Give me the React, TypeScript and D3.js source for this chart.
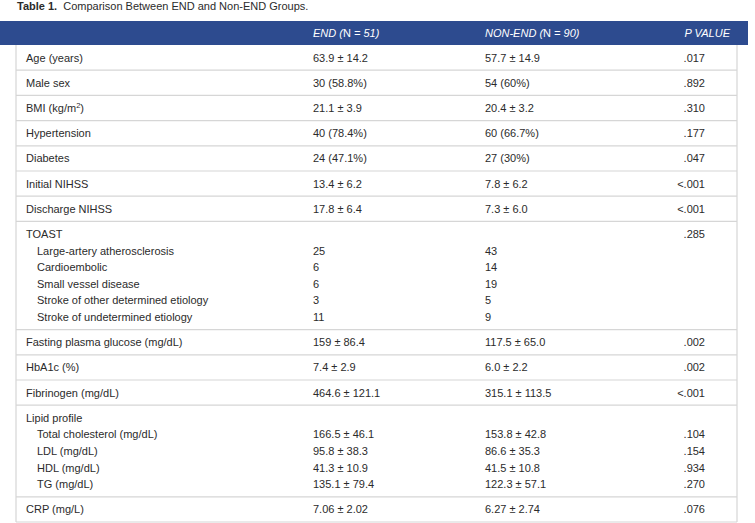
import React, { useEffect, useRef } from "react";
import { select, scaleLinear, sum } from "d3";

// table content
const title = "Comparison Between END and Non-END Groups.";
const headers = ["END", "NON-END", "P VALUE"];
const groupSizes = [51, 90];

const variables = [
  "Age (years)",
  "Male sex",
  "BMI (kg/m2)",
  "Hypertension",
  "Diabetes",
  "Initial NIHSS",
  "Discharge NIHSS",
  "TOAST",
  "Fasting plasma glucose (mg/dL)",
  "HbA1c (%)",
  "Fibrinogen (mg/dL)",
  "Lipid profile",
  "CRP (mg/L)"
];
const endValues = [
  "63.9 ± 14.2", "30 (58.8%)", "21.1 ± 3.9", "40 (78.4%)", "24 (47.1%)",
  "13.4 ± 6.2", "17.8 ± 6.4", "", "159 ± 86.4", "7.4 ± 2.9",
  "464.6 ± 121.1", "", "7.06 ± 2.02"
];
const nonEndValues = [
  "57.7 ± 14.9", "54 (60%)", "20.4 ± 3.2", "60 (66.7%)", "27 (30%)",
  "7.8 ± 6.2", "7.3 ± 6.0", "", "117.5 ± 65.0", "6.0 ± 2.2",
  "315.1 ± 113.5", "", "6.27 ± 2.74"
];
const pValues = [
  ".017", ".892", ".310", ".177", ".047", "<.001", "<.001", ".285",
  ".002", ".002", "<.001", "", ".076"
];

const toastTypes = [
  "Large-artery atherosclerosis",
  "Cardioembolic",
  "Small vessel disease",
  "Stroke of other determined etiology",
  "Stroke of undetermined etiology"
];
const toastEnd = ["25", "6", "6", "3", "11"];
const toastNonEnd = ["43", "14", "19", "5", "9"];
const toastP = ["", "", "", "", ""];

const lipidItems = ["Total cholesterol (mg/dL)", "LDL (mg/dL)", "HDL (mg/dL)", "TG (mg/dL)"];
const lipidEnd = ["166.5 ± 46.1", "95.8 ± 38.3", "41.3 ± 10.9", "135.1 ± 79.4"];
const lipidNonEnd = ["153.8 ± 42.8", "86.6 ± 35.3", "41.5 ± 10.8", "122.3 ± 57.1"];
const lipidP = [".104", ".154", ".934", ".270"];

const subRows = {
  TOAST: { labels: toastTypes, end: toastEnd, nonEnd: toastNonEnd, p: toastP },
  "Lipid profile": { labels: lipidItems, end: lipidEnd, nonEnd: lipidNonEnd, p: lipidP }
};

const W = 755;
const H = 523;
const FONT = "'Liberation Sans', Arial, Helvetica, sans-serif";
const BLUE = "#2d4b8f";
const TEXT = "#2b2b2b";
const RULE = "#d6d6d6";

export default function App() {
  const svgRef = useRef(null);

  useEffect(() => {
    const svg = select(svgRef.current);
    svg.selectAll("*").remove();

    const headTop = 21;
    const headBottom = 45;
    const lineH = 16.6;
    const pad = 8.6;
    const left = 16;
    const right = 737;
    const colX = { label: 26, sub: 37, end: 313, nonEnd: 485, pRight: 705 };

    // line index -> y offset
    const lineY = scaleLinear().domain([0, 1]).range([0, lineH]);

    // build row blocks
    const rows = variables.map((v, i) => {
      const sub = subRows[v];
      const lines = [{ label: v, end: endValues[i], nonEnd: nonEndValues[i], p: pValues[i], indent: false }];
      if (sub) {
        sub.labels.forEach((l, j) =>
          lines.push({ label: l, end: sub.end[j], nonEnd: sub.nonEnd[j], p: sub.p[j], indent: true })
        );
      }
      return { lines };
    });
    let y = headBottom;
    rows.forEach((r) => {
      r.top = y;
      r.height = lineY(r.lines.length) + pad;
      y += r.height;
    });
    const bottom = headBottom + sum(rows, (r) => r.height);

    // title
    const t = svg
      .append("text")
      .attr("x", 17)
      .attr("y", 10)
      .attr("font-family", FONT)
      .attr("font-size", 11)
      .attr("fill", TEXT);
    t.append("tspan").attr("font-weight", "bold").text("Table 1.");
    t.append("tspan").attr("dx", 3).text(" " + title);

    // header band
    svg.append("rect")
      .attr("x", 0).attr("y", headTop)
      .attr("width", 748).attr("height", headBottom - headTop)
      .attr("fill", BLUE);

    const hy = (headTop + headBottom) / 2 + 4;
    const hd = svg.append("g")
      .attr("font-family", FONT)
      .attr("font-size", 11)
      .attr("fill", "#ffffff")
      .attr("font-style", "italic");
    [colX.end, colX.nonEnd].forEach((x, i) => {
      const h = hd.append("text").attr("x", x).attr("y", hy);
      h.append("tspan").text(headers[i] + " (");
      h.append("tspan").attr("font-style", "normal").text("N");
      h.append("tspan").text(` = ${groupSizes[i]})`);
    });
    hd.append("text").attr("x", colX.pRight + 25).attr("y", hy)
      .attr("text-anchor", "end").text(headers[2]);

    // borders
    const rules = svg.append("g").attr("stroke", RULE).attr("stroke-width", 1.2);
    rules.selectAll("line.row")
      .data(rows.slice(1))
      .join("line")
      .attr("class", "row")
      .attr("x1", left).attr("x2", right)
      .attr("y1", (d) => d.top).attr("y2", (d) => d.top);
    rules.append("line").attr("x1", left).attr("x2", right).attr("y1", bottom).attr("y2", bottom);
    rules.append("line").attr("x1", left).attr("x2", left).attr("y1", headBottom).attr("y2", bottom);
    rules.append("line").attr("x1", right).attr("x2", right).attr("y1", headBottom).attr("y2", bottom);

    // cell text
    const body = svg.append("g")
      .attr("font-family", FONT)
      .attr("font-size", 11)
      .attr("fill", TEXT);
    rows.forEach((r) => {
      r.lines.forEach((ln, k) => {
        const by = r.top + pad / 2 + lineY(k) + lineH / 2 + 4;
        const lab = body.append("text").attr("x", ln.indent ? colX.sub : colX.label).attr("y", by);
        if (ln.label === "BMI (kg/m2)") {
          lab.append("tspan").text("BMI (kg/m");
          lab.append("tspan").attr("font-size", 7.5).attr("dy", -4).text("2");
          lab.append("tspan").attr("dy", 4).text(")");
        } else {
          lab.text(ln.label);
        }
        body.append("text").attr("x", colX.end).attr("y", by).text(ln.end);
        body.append("text").attr("x", colX.nonEnd).attr("y", by).text(ln.nonEnd);
        body.append("text").attr("x", colX.pRight).attr("y", by).attr("text-anchor", "end").text(ln.p);
      });
    });
  }, []);

  return (
    <svg
      ref={svgRef}
      width={W}
      height={H}
      style={{ position: "fixed", left: 0, top: 0, background: "#fff" }}
    />
  );
}
